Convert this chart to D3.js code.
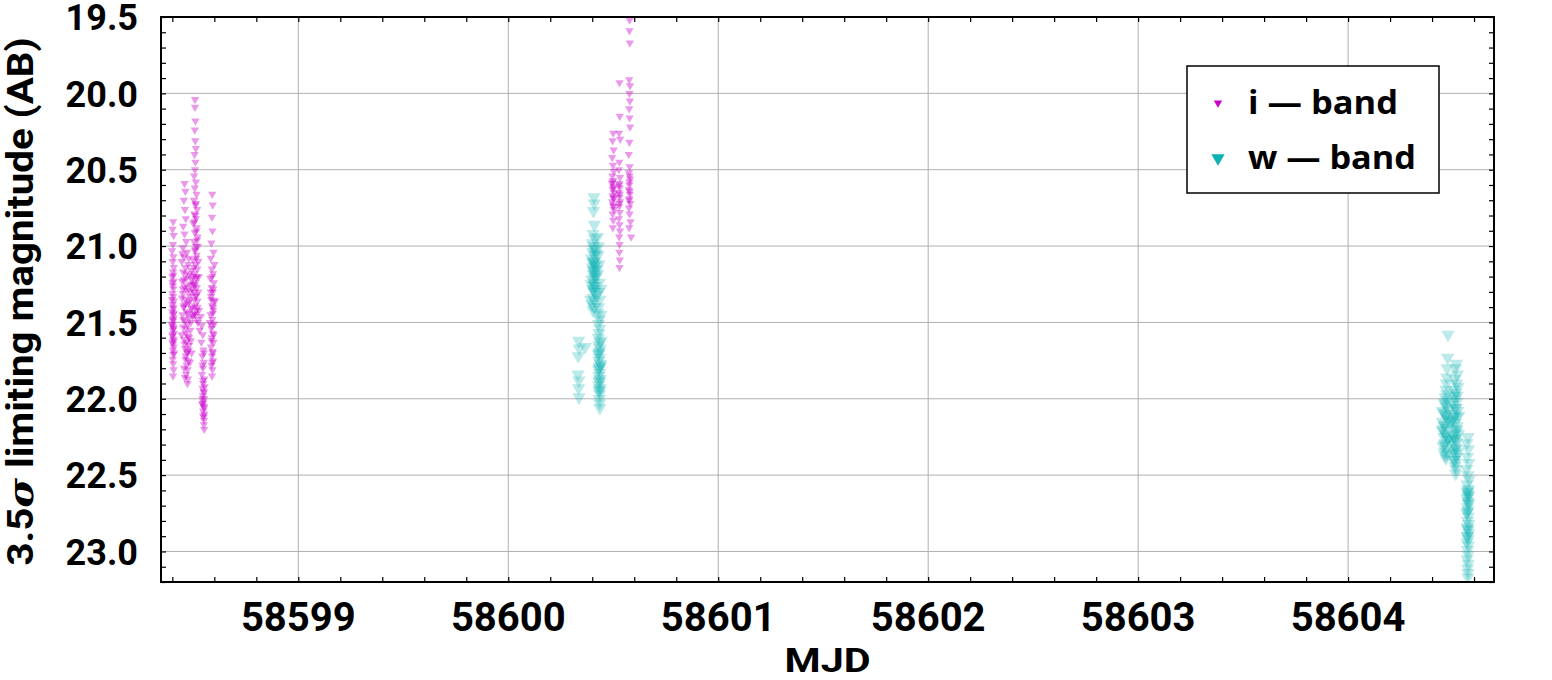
<!DOCTYPE html>
<html><head><meta charset="utf-8">
<script src="https://cdn.jsdelivr.net/npm/d3@7"></script>
<style>body{margin:0;background:#fff}</style>
</head><body><svg id="chart" width="1552" height="680"></svg>
<script>
// ---------- data ----------
const xTickLabels = [58599, 58600, 58601, 58602, 58603, 58604];
const yTickLabels = [19.5, 20.0, 20.5, 21.0, 21.5, 22.0, 22.5, 23.0];
const seriesNames = ["i \u2014 band", "w \u2014 band"];

// i-band: [MJD, 3.5 sigma limiting magnitude]
const iBand = [
 [58598.404,20.84],[58598.401,20.89],[58598.406,20.93],[58598.403,20.99],[58598.399,21.03],[58598.405,21.07],[58598.402,21.10],[58598.407,21.14],[58598.404,21.17],[58598.400,21.20],[58598.406,21.23],[58598.403,21.26],[58598.405,21.28],[58598.401,21.31],[58598.404,21.33],[58598.407,21.36],[58598.402,21.38],[58598.405,21.41],[58598.400,21.43],[58598.403,21.45],[58598.406,21.47],[58598.404,21.49],[58598.401,21.51],[58598.405,21.53],[58598.403,21.55],[58598.407,21.57],[58598.402,21.59],[58598.404,21.61],[58598.400,21.63],[58598.406,21.66],[58598.403,21.68],[58598.405,21.71],[58598.402,21.74],[58598.404,21.77],[58598.406,21.81],[58598.403,21.85],
 [58598.398,21.35],[58598.408,21.44],[58598.402,21.48],[58598.406,21.54],[58598.400,21.58],[58598.404,21.64],[58598.408,21.70],[58598.401,21.24],[58598.405,21.19],[58598.403,21.40],[58598.407,21.62],[58598.399,21.52],
 [58598.458,20.59],[58598.462,20.64],[58598.455,20.70],[58598.460,20.76],[58598.464,20.82],[58598.452,20.87],[58598.458,20.92],[58598.466,20.97],[58598.450,21.01],[58598.470,21.04],[58598.456,21.07],[58598.445,21.10],[58598.476,21.12],[58598.462,21.14],[58598.452,21.17],[58598.482,21.19],[58598.466,21.21],[58598.447,21.23],[58598.488,21.25],[58598.458,21.27],[58598.472,21.29],[58598.450,21.31],[58598.484,21.33],[58598.462,21.35],[58598.476,21.37],[58598.455,21.39],[58598.490,21.41],[58598.468,21.43],[58598.448,21.45],[58598.480,21.47],[58598.460,21.49],[58598.472,21.51],[58598.452,21.53],[58598.486,21.55],[58598.464,21.57],[58598.476,21.59],[58598.456,21.61],[58598.468,21.63],[58598.480,21.65],[58598.460,21.67],[58598.472,21.69],[58598.464,21.72],[58598.476,21.75],[58598.468,21.78],[58598.472,21.81],[58598.466,21.84],[58598.474,21.87],[58598.472,21.90],[58598.494,21.28],[58598.496,21.46],
 [58598.448,21.05],[58598.478,21.08],[58598.490,21.16],[58598.455,21.22],[58598.470,21.26],[58598.486,21.30],[58598.446,21.34],[58598.462,21.38],[58598.494,21.40],[58598.474,21.44],[58598.452,21.48],[58598.488,21.50],[58598.466,21.54],[58598.444,21.58],[58598.480,21.60],[58598.458,21.64],[58598.470,21.70],[58598.462,21.74],[58598.478,21.68],[58598.454,21.40],[58598.482,21.36],[58598.466,21.18],[58598.492,21.22],[58598.450,21.28],
 [58598.488,21.62],[58598.492,21.70],[58598.484,21.76],[58598.456,21.80],[58598.460,21.86],
 [58598.508,20.04],[58598.508,20.09],[58598.510,20.18],[58598.507,20.24],[58598.509,20.31],[58598.512,20.36],[58598.506,20.40],[58598.510,20.45],[58598.508,20.50],[58598.504,20.54],[58598.512,20.58],[58598.507,20.62],[58598.515,20.66],[58598.503,20.70],[58598.510,20.73],[58598.518,20.76],[58598.505,20.79],[58598.512,20.82],[58598.500,20.85],[58598.516,20.88],[58598.507,20.91],[58598.520,20.94],[58598.503,20.97],[58598.512,21.00],[58598.508,21.03],[58598.516,21.06],[58598.500,21.09],[58598.510,21.12],[58598.519,21.15],[58598.505,21.18],[58598.513,21.21],[58598.509,21.24],[58598.517,21.27],[58598.504,21.30],[58598.512,21.33],[58598.520,21.36],[58598.508,21.39],[58598.515,21.42],[58598.511,21.45],[58598.518,21.48],[58598.522,21.00],[58598.498,21.20],[58598.524,21.10],
 [58598.512,20.72],[58598.505,20.84],[58598.518,20.96],[58598.509,21.02],[58598.514,21.08],[58598.503,21.14],[58598.517,21.20],[58598.507,21.26],[58598.513,21.32],[58598.520,21.40],[58598.506,21.44],[58598.515,20.90],[58598.510,20.80],
 [58598.500,21.25],[58598.505,21.35],[58598.498,21.45],[58598.524,21.30],[58598.527,21.42],[58598.522,21.50],[58598.530,21.55],[58598.526,21.20],
 [58598.535,21.46],[58598.540,21.52],[58598.545,21.58],[58598.538,21.63],[58598.548,21.68],[58598.543,21.72],[58598.550,21.76],[58598.546,21.80],[58598.541,21.84],[58598.552,21.87],[58598.547,21.90],[58598.544,21.93],[58598.550,21.96],[58598.546,21.98],[58598.552,22.00],[58598.548,22.02],[58598.545,22.04],[58598.551,22.06],[58598.547,22.08],[58598.553,22.10],[58598.549,22.12],[58598.551,22.14],[58598.550,22.17],[58598.552,22.20],[58598.554,21.92],[58598.542,22.03],
 [58598.546,21.88],[58598.549,21.95],[58598.543,22.00],[58598.551,22.05],[58598.547,22.11],[58598.544,21.78],[58598.550,21.70],
 [58598.590,20.66],[58598.592,20.73],[58598.589,20.81],[58598.591,20.90],[58598.586,20.98],[58598.596,21.04],[58598.583,21.08],[58598.600,21.12],[58598.588,21.15],[58598.594,21.18],[58598.581,21.21],[58598.598,21.24],[58598.587,21.27],[58598.593,21.30],[58598.584,21.33],[58598.597,21.36],[58598.589,21.39],[58598.595,21.42],[58598.582,21.45],[58598.591,21.48],[58598.599,21.51],[58598.586,21.54],[58598.593,21.57],[58598.588,21.60],[58598.596,21.63],[58598.584,21.66],[58598.592,21.69],[58598.589,21.72],[58598.594,21.75],[58598.587,21.78],[58598.591,21.81],[58598.589,21.85],[58598.604,21.36],[58598.578,21.50],
 [58598.590,21.20],[58598.595,21.28],[58598.585,21.35],[58598.593,21.44],[58598.588,21.52],[58598.597,21.58],[58598.586,21.62],[58598.592,21.70],[58598.590,21.76],[58598.594,21.40],[58598.583,21.30],
 [58600.500,20.26],[58600.497,20.31],[58600.502,20.37],[58600.495,20.42],[58600.499,20.47],[58600.503,20.51],[58600.496,20.54],[58600.500,20.57],[58600.494,20.59],[58600.502,20.61],[58600.498,20.63],[58600.504,20.65],[58600.497,20.67],[58600.501,20.69],[58600.495,20.71],[58600.499,20.73],[58600.503,20.76],[58600.497,20.79],[58600.500,20.83],[58600.498,20.88],
 [58600.499,20.62],[58600.502,20.68],[58600.496,20.58],[58600.501,20.74],
 [58600.530,19.93],[58600.531,20.15],[58600.528,20.26],[58600.533,20.30],[58600.529,20.45],[58600.527,20.50],[58600.532,20.55],[58600.528,20.59],[58600.531,20.62],[58600.526,20.65],[58600.530,20.68],[58600.533,20.71],[58600.528,20.74],[58600.531,20.78],[58600.527,20.82],[58600.530,20.86],[58600.532,20.90],[58600.528,20.94],[58600.530,20.99],[58600.529,21.04],[58600.531,21.09],[58600.530,21.14],
 [58600.529,20.60],[58600.531,20.66],[58600.528,20.72],
 [58600.578,19.52],[58600.577,19.59],[58600.579,19.67],[58600.576,19.91],[58600.580,19.95],[58600.577,20.00],[58600.579,20.05],[58600.576,20.10],[58600.578,20.16],[58600.580,20.22],[58600.577,20.32],[58600.574,20.40],[58600.578,20.48],[58600.575,20.52],[58600.580,20.56],[58600.577,20.60],[58600.574,20.63],[58600.579,20.66],[58600.576,20.69],[58600.581,20.72],[58600.575,20.75],[58600.578,20.79],[58600.582,20.84],[58600.576,20.88],[58600.585,20.94],
 [58600.577,20.58],[58600.579,20.64],[58600.576,20.70],[58600.578,20.54]
];

// w-band: [MJD, 3.5 sigma limiting magnitude]
const wBand = [
 [58600.335,21.62],[58600.338,21.67],[58600.333,21.72],[58600.332,21.84],[58600.336,21.88],[58600.335,21.93],[58600.337,21.99],[58600.366,21.66],
 [58600.408,20.68],[58600.410,20.72],[58600.406,20.77],[58600.410,20.86],[58600.404,20.92],[58600.412,20.95],[58600.400,20.98],[58600.408,21.00],[58600.414,21.02],[58600.402,21.04],[58600.410,21.06],[58600.396,21.08],[58600.406,21.10],[58600.416,21.12],[58600.400,21.14],[58600.410,21.16],[58600.404,21.18],[58600.418,21.20],[58600.398,21.22],[58600.408,21.24],[58600.414,21.26],[58600.402,21.28],[58600.410,21.30],[58600.420,21.32],[58600.404,21.34],[58600.412,21.36],[58600.398,21.38],[58600.408,21.40],[58600.404,21.42],[58600.420,21.05],[58600.422,21.15],[58600.395,21.25],[58600.392,21.35],[58600.404,21.11],[58600.412,21.19],[58600.406,21.29],[58600.408,21.21],[58600.410,21.13],
 [58600.406,21.02],[58600.410,21.10],[58600.404,21.16],[58600.408,21.26],
 [58600.425,20.94],[58600.430,21.00],[58600.428,21.06],[58600.432,21.12],[58600.426,21.18],[58600.434,21.24],[58600.429,21.30],[58600.436,21.35],[58600.431,21.40],[58600.427,21.44],[58600.434,21.48],[58600.430,21.51],[58600.436,21.54],[58600.432,21.57],[58600.429,21.60],[58600.435,21.63],[58600.431,21.65],[58600.437,21.67],[58600.433,21.69],[58600.429,21.71],[58600.435,21.73],[58600.431,21.75],[58600.438,21.77],[58600.433,21.79],[58600.430,21.81],[58600.436,21.83],[58600.432,21.85],[58600.438,21.87],[58600.434,21.89],[58600.431,21.91],[58600.437,21.93],[58600.433,21.95],[58600.436,21.97],[58600.434,22.00],[58600.435,22.03],[58600.436,22.06],[58600.440,21.45],[58600.442,21.62],[58600.441,21.78],[58600.440,21.28],
 [58600.432,21.70],[58600.434,21.80],[58600.432,21.88],[58600.434,21.94],
 [58604.476,21.58],[58604.474,21.73],[58604.472,21.80],[58604.470,21.86],[58604.468,21.90],[58604.466,21.94],[58604.470,21.97],[58604.462,21.99],[58604.474,22.01],[58604.458,22.03],[58604.468,22.05],[58604.478,22.07],[58604.455,22.09],[58604.464,22.11],[58604.472,22.13],[58604.450,22.15],[58604.460,22.17],[58604.470,22.19],[58604.452,22.21],[58604.466,22.23],[58604.456,22.25],[58604.474,22.27],[58604.460,22.29],[58604.452,22.31],[58604.468,22.33],[58604.458,22.35],[58604.462,22.37],[58604.466,22.39],[58604.450,22.08],[58604.448,22.20],[58604.480,22.14],[58604.478,22.26],
 [58604.462,22.02],[58604.470,22.10],[58604.456,22.18],[58604.468,22.24],[58604.460,22.30],[58604.472,22.36],
 [58604.516,21.77],[58604.512,21.80],[58604.520,21.84],[58604.508,21.87],[58604.516,21.90],[58604.524,21.92],[58604.504,21.94],[58604.514,21.96],[58604.520,21.98],[58604.508,22.00],[58604.518,22.02],[58604.500,22.04],[58604.512,22.06],[58604.522,22.08],[58604.506,22.10],[58604.516,22.12],[58604.498,22.14],[58604.510,22.16],[58604.520,22.18],[58604.504,22.20],[58604.514,22.22],[58604.500,22.24],[58604.510,22.26],[58604.518,22.28],[58604.506,22.30],[58604.514,22.32],[58604.502,22.34],[58604.510,22.36],[58604.516,22.38],[58604.508,22.40],[58604.512,22.42],[58604.510,22.44],[58604.514,22.46],[58604.512,22.49],[58604.528,22.11],[58604.526,22.23],[58604.522,22.35],[58604.494,22.15],[58604.496,22.27],
 [58604.506,21.98],[58604.514,22.06],[58604.502,22.12],[58604.518,22.20],[58604.508,22.26],[58604.512,22.33],[58604.504,22.40],
 [58604.571,22.25],[58604.566,22.29],[58604.573,22.33],[58604.568,22.38],[58604.574,22.42],[58604.565,22.46],[58604.571,22.50],[58604.576,22.53],[58604.567,22.56],[58604.572,22.59],[58604.569,22.61],[58604.575,22.63],[58604.566,22.65],[58604.571,22.67],[58604.574,22.69],[58604.568,22.71],[58604.572,22.73],[58604.566,22.75],[58604.573,22.77],[58604.569,22.80],[58604.574,22.82],[58604.567,22.84],[58604.571,22.86],[58604.575,22.88],[58604.568,22.90],[58604.572,22.92],[58604.566,22.94],[58604.573,22.96],[58604.569,22.99],[58604.571,23.02],[58604.567,23.05],[58604.572,23.08],[58604.569,23.11],[58604.571,23.14],[58604.570,23.17],[58604.570,22.62],[58604.572,22.64],
 [58604.570,22.60],[58604.572,22.68],[58604.568,22.74],[58604.571,22.85],[58604.569,22.90]
];

// ---------- layout ----------
const L = 161, R = 1494, T = 17, B = 582;
const svg = d3.select("#chart");
const x = d3.scaleLinear().domain([58598.346, 58604.695]).range([L, R]);
const y = d3.scaleLinear().domain([19.5, 23.2]).range([T, B]);

const iColor = "#cc00cc", wColor = "#0db3b3";

// grid
const grid = svg.append("g");
grid.selectAll("line.vx").data(xTickLabels).enter().append("line")
  .attr("x1", d => x(d)).attr("x2", d => x(d)).attr("y1", T).attr("y2", B)
  .attr("stroke", "#b0b0b0").attr("stroke-width", 1);
grid.selectAll("line.hy").data(yTickLabels.slice(1)).enter().append("line")
  .attr("y1", d => y(d)).attr("y2", d => y(d)).attr("x1", L).attr("x2", R)
  .attr("stroke", "#b0b0b0").attr("stroke-width", 1);

// points
const triSmall = d3.symbol().type(d3.symbolTriangle).size(30)();
const triBig = d3.symbol().type(d3.symbolTriangle).size(78)();
svg.append("clipPath").attr("id", "clip").append("rect")
  .attr("x", L).attr("y", T).attr("width", R - L).attr("height", B - T);
const pts = svg.append("g").attr("clip-path", "url(#clip)");
pts.selectAll("path.w").data(wBand).enter().append("path")
  .attr("d", triBig)
  .attr("transform", d => `translate(${x(d[0])},${y(d[1])}) rotate(180)`)
  .attr("fill", wColor).attr("fill-opacity", 0.28);
pts.selectAll("path.i").data(iBand).enter().append("path")
  .attr("d", triSmall)
  .attr("transform", d => `translate(${x(d[0])},${y(d[1])}) rotate(180)`)
  .attr("fill", iColor).attr("fill-opacity", 0.4);

// axes with inward ticks
const xMinor = d3.range(58598.4, 58604.7, 0.2);
const yMinor = d3.range(19.5, 23.21, 0.1);
svg.append("g").attr("transform", `translate(0,${B})`)
  .call(d3.axisBottom(x).tickValues(xMinor).tickSize(-5).tickFormat(""))
  .call(g => g.select(".domain").remove());
svg.append("g").attr("transform", `translate(0,${T})`)
  .call(d3.axisTop(x).tickValues(xMinor).tickSize(-5).tickFormat(""))
  .call(g => g.select(".domain").remove());
svg.append("g").attr("transform", `translate(${L},0)`)
  .call(d3.axisLeft(y).tickValues(yMinor).tickSize(-5).tickFormat(""))
  .call(g => g.select(".domain").remove());
svg.append("g").attr("transform", `translate(${R},0)`)
  .call(d3.axisRight(y).tickValues(yMinor).tickSize(-5).tickFormat(""))
  .call(g => g.select(".domain").remove());
svg.selectAll(".tick line").attr("stroke", "#000").attr("stroke-width", 1.2);

// frame
svg.append("rect").attr("x", L).attr("y", T).attr("width", R - L).attr("height", B - T)
  .attr("fill", "none").attr("stroke", "#000").attr("stroke-width", 2);

// tick labels
const font = "Roboto, 'DejaVu Sans', sans-serif";
svg.append("g").selectAll("text").data(xTickLabels).enter().append("text")
  .attr("x", d => x(d)).attr("y", 631)
  .attr("text-anchor", "middle").attr("font-family", font).attr("font-weight", 700)
  .attr("font-size", 40).text(d => d3.format("d")(d));
svg.append("g").selectAll("text").data(yTickLabels).enter().append("text")
  .attr("x", 138).attr("y", d => y(d)).attr("dy", "0.37em")
  .attr("text-anchor", "end").attr("font-family", font).attr("font-weight", 700)
  .attr("font-size", 36).text(d => d3.format(".1f")(d));

// axis titles
svg.append("text").attr("x", (L + R) / 2).attr("y", 672).attr("text-anchor", "middle")
  .attr("font-family", font).attr("font-weight", 700).attr("font-size", 34)
  .attr("textLength", 86).attr("lengthAdjust", "spacingAndGlyphs").text("MJD");
const yTitle = svg.append("text").attr("transform", `translate(33,${(T + B) / 2 + 2}) rotate(-90)`)
  .attr("text-anchor", "middle").attr("font-family", font).attr("font-weight", 700)
  .attr("font-size", 36).attr("textLength", 528).attr("lengthAdjust", "spacingAndGlyphs");
yTitle.append("tspan").text("3.5");
yTitle.append("tspan").attr("font-style", "italic").attr("font-family", "'DejaVu Serif', serif").text("\u03c3");
yTitle.append("tspan").text(" limiting magnitude (AB)");

// legend
const lg = svg.append("g");
lg.append("rect").attr("x", 1187).attr("y", 66).attr("width", 252).attr("height", 127)
  .attr("fill", "#fff").attr("stroke", "#000").attr("stroke-width", 1.5);
const legendItems = [
  {name: seriesNames[0], color: iColor, path: triSmall, yy: 103, tl: 150},
  {name: seriesNames[1], color: wColor, path: triBig, yy: 158, tl: 168}
];
legendItems.forEach(it => {
  lg.append("path").attr("d", it.path)
    .attr("transform", `translate(1218,${it.yy}) rotate(180)`).attr("fill", it.color);
  lg.append("text").attr("x", 1248).attr("y", it.yy + 11)
    .attr("font-family", "'Open Sans', sans-serif").attr("font-weight", 700)
    .attr("font-size", 32).attr("textLength", it.tl).attr("lengthAdjust", "spacingAndGlyphs")
    .text(it.name);
});
</script></body></html>
